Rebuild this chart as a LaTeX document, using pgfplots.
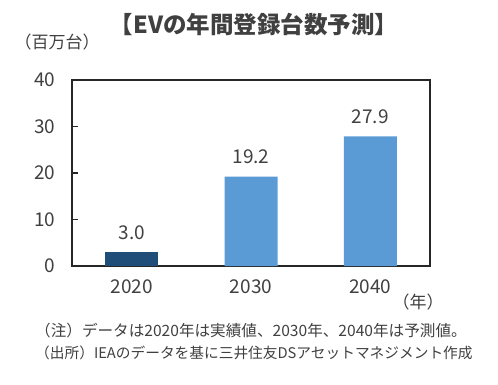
\documentclass[border=0pt]{standalone}
\usepackage{pgfplots}
\pgfplotsset{compat=1.18}
\usepackage{fontspec}
\setmainfont{Noto Sans CJK JP}
\definecolor{darkbar}{HTML}{1F4E79}
\definecolor{lightbar}{HTML}{5B9BD5}
\definecolor{txt}{HTML}{404040}
\begin{document}
\begin{tikzpicture}[x=1bp,y=1bp]
\path[use as bounding box] (0,0) rectangle (498,384);
\begin{axis}[
  at={(72bp,118bp)}, anchor=south west,
  scale only axis, width=358bp, height=186bp,
  xmin=-0.5, xmax=2.5, ymin=0, ymax=40,
  axis line style={black!85, line width=1.2pt},
  xtick={0,1,2}, xticklabels={2020,2030,2040},
  major x tick style={draw=none},
  extra x ticks={0.5,1.5}, extra x tick labels={},
  extra x tick style={major tick length=6bp, tick align=inside, tick style={black!85, line width=1.2pt}},
  ytick={0,10,20,30,40},
  ytick pos=left, xtick pos=bottom,
  tick align=inside, major tick length=6bp,
  tick style={black!85, line width=1.2pt},
  /pgf/number format/assume math mode=true,
  ticklabel style={font=\fontsize{19bp}{22bp}\selectfont, text=txt},
  yticklabel style={xshift=-13bp},
  xticklabel style={yshift=-10bp},
  bar width=53bp,
  nodes near coords,
  nodes near coords style={font=\fontsize{19bp}{22bp}\selectfont, text=txt, yshift=9bp, /pgf/number format/fixed, /pgf/number format/fixed zerofill, /pgf/number format/precision=1, /pgf/number format/assume math mode=true},
]
\addplot[ybar, bar shift=0pt, fill=darkbar, draw=none] coordinates {(0,3.0)};
\addplot[ybar, bar shift=0pt, fill=lightbar, draw=none] coordinates {(1,19.2) (2,27.9)};
\end{axis}
\node[text=txt, font=\fontsize{23.5bp}{27bp}\selectfont\bfseries] at (254,360) {【EVの年間登録台数予測】};
\node[text=txt, font=\fontsize{17bp}{20bp}\selectfont] at (57,342) {（百万台）};
\node[text=txt, font=\fontsize{17bp}{20bp}\selectfont] at (418,82) {（年）};
\node[text=txt, font=\fontsize{15.6bp}{18bp}\selectfont, anchor=west, inner sep=0pt] at (35,53) {（注）データは2020年は実績値、2030年、2040年は予測値。};
\node[text=txt, font=\fontsize{14.7bp}{18bp}\selectfont, anchor=west, inner sep=0pt] at (35,31) {（出所）IEAのデータを基に三井住友DSアセットマネジメント作成};
\end{tikzpicture}
\end{document}
